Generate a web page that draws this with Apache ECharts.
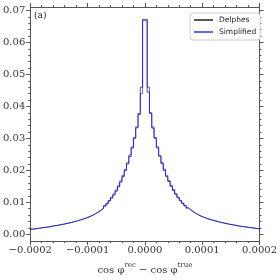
<!DOCTYPE html>
<html><head><meta charset="utf-8">
<script src="https://cdn.jsdelivr.net/npm/echarts@6/dist/echarts.min.js"></script>
<style>html,body{margin:0;padding:0;background:#fff}#c{width:280px;height:280px}</style>
</head><body><div id="c"></div>
<script>
// histogram binning: 100 bins from -0.0002 to 0.0002
const binMin = -0.0002;
const binWidth = 0.000004;

const delphes = [
0.0016,0.0017,0.0018,0.0019,0.0020,0.0021,0.0022,0.0023,0.0024,0.0026,
0.0027,0.0028,0.0029,0.0031,0.0032,0.0034,0.0035,0.0037,0.0039,0.0041,
0.0043,0.0045,0.0047,0.0050,0.0052,0.0055,0.0058,0.0062,0.0066,0.0070,
0.0075,0.0081,0.0088,0.0095,0.0104,0.0113,0.0123,0.0135,0.0148,0.0163,
0.0180,0.0199,0.0220,0.0243,0.0270,0.0300,0.0333,0.0375,0.0460,0.0672,
0.0672,0.0445,0.0380,0.0332,0.0303,0.0270,0.0244,0.0221,0.0200,0.0181,
0.0165,0.0150,0.0137,0.0125,0.0114,0.0105,0.0096,0.0089,0.0082,0.0076,
0.0071,0.0066,0.0062,0.0058,0.0055,0.0052,0.0050,0.0047,0.0045,0.0043,
0.0041,0.0039,0.0037,0.0036,0.0034,0.0033,0.0031,0.0030,0.0029,0.0027,
0.0026,0.0025,0.0024,0.0023,0.0022,0.0021,0.0020,0.0019,0.0018,0.0017
];
const simplified = [
0.0016,0.0017,0.0018,0.0019,0.0020,0.0021,0.0022,0.0023,0.0025,0.0026,
0.0027,0.0028,0.0030,0.0031,0.0032,0.0034,0.0036,0.0037,0.0039,0.0041,
0.0043,0.0045,0.0048,0.0050,0.0053,0.0056,0.0059,0.0063,0.0067,0.0072,
0.0077,0.0083,0.0090,0.0097,0.0106,0.0116,0.0126,0.0138,0.0152,0.0167,
0.0184,0.0203,0.0224,0.0248,0.0273,0.0303,0.0336,0.0378,0.0440,0.0668,
0.0668,0.0460,0.0378,0.0336,0.0300,0.0274,0.0247,0.0225,0.0204,0.0185,
0.0168,0.0153,0.0140,0.0127,0.0116,0.0106,0.0098,0.0090,0.0083,0.0077,
0.0072,0.0067,0.0063,0.0059,0.0056,0.0053,0.0050,0.0048,0.0046,0.0044,
0.0042,0.0040,0.0038,0.0036,0.0035,0.0033,0.0032,0.0030,0.0029,0.0028,
0.0026,0.0025,0.0024,0.0023,0.0022,0.0021,0.0020,0.0019,0.0018,0.0017
];
const seriesNames = ['Delphes', 'Simplified'];
const xTicks = [-0.0002, -0.0001, 0, 0.0001, 0.0002];
const yTicks = [0, 0.01, 0.02, 0.03, 0.04, 0.05, 0.06, 0.07];
const panelLabel = '(a)';

function stepData(vals) {
  const pts = vals.map((v, i) => [binMin + i * binWidth, v]);
  pts.push([binMin + vals.length * binWidth, vals[vals.length - 1]]);
  return pts;
}
const yMinor = [];
yTicks.forEach(t => { for (let k = 1; k < 5; k++) yMinor.push(+(t + k * 0.002).toFixed(4)); });

const serif = 'DejaVu Serif';
const axisCol = '#555';
function fmtX(v) {
  const s = Math.abs(v).toFixed(4);
  return v < -1e-12 ? '\u2212' + s : s;
}
const yMin = -0.0021, yMax = 0.0711;

const baseX = {
  type: 'value', min: xTicks[0], max: xTicks[xTicks.length - 1], interval: 0.0001,
  axisLine: { show: true, onZero: false, lineStyle: { color: axisCol, width: 1 } },
  axisTick: { show: true, length: 4, lineStyle: { color: axisCol, width: 1 } },
  minorTick: { show: true, splitNumber: 5, length: 2, lineStyle: { color: axisCol, width: 1 } },
  splitLine: { show: false }, minorSplitLine: { show: false }
};
function yAx(pos, major) {
  return { type: 'value', position: pos, min: yMin, max: yMax,
    axisLine: { show: major, onZero: false, lineStyle: { color: axisCol, width: 1 } },
    axisTick: { show: true, length: major ? 4 : 2, customValues: major ? yTicks : yMinor,
      lineStyle: { color: axisCol, width: 1 } },
    axisLabel: (major && pos === 'left')
      ? { customValues: yTicks, formatter: v => v.toFixed(2), fontFamily: serif, fontSize: 10, color: '#333', margin: 5 }
      : { show: false },
    splitLine: { show: false } };
}
const chart = echarts.init(document.getElementById('c'), null, { renderer: 'canvas' });
chart.setOption({
  animation: false,
  backgroundColor: '#fff',
  title: { text: panelLabel, left: 34, top: 11, padding: 0,
    textStyle: { fontFamily: serif, fontSize: 9, fontWeight: 'normal', color: '#222' } },
  grid: { left: 29, right: 19, top: 7, bottom: 33 },
  legend: {
    data: seriesNames, orient: 'vertical', left: 190, top: 13,
    itemWidth: 19, itemHeight: 9, itemGap: 4, padding: [3, 4, 4, 3],
    itemStyle: { opacity: 0, borderWidth: 0 },
    backgroundColor: '#fff', borderColor: '#ccc', borderWidth: 1, borderRadius: 3,
    textStyle: { fontFamily: 'DejaVu Sans', fontSize: 7.5, color: '#222', padding: [0, 0, 0, 1] }
  },
  xAxis: [
    Object.assign({}, baseX, {
      position: 'bottom',
      axisLabel: { formatter: fmtX, fontFamily: serif, fontSize: 10, color: '#333', margin: 4 },
      name: '{a|cos \u03c6}{s|rec}{a| \u2212 cos \u03c6}{s|true}',
      nameLocation: 'middle', nameGap: 21,
      nameTextStyle: { rich: {
        a: { fontFamily: serif, fontSize: 10, color: '#333', verticalAlign: 'bottom', lineHeight: 13 },
        s: { fontFamily: serif, fontSize: 7, color: '#333', verticalAlign: 'top', lineHeight: 13, padding: [0, 0, 2, 0] }
      } }
    }),
    Object.assign({}, baseX, { position: 'top', axisLabel: { show: false } })
  ],
  yAxis: [yAx('left', true), yAx('left', false), yAx('right', true), yAx('right', false)],
  series: [
    { name: seriesNames[0], type: 'line', step: 'end', symbol: 'none', data: stepData(delphes),
      xAxisIndex: 0, yAxisIndex: 0,
      lineStyle: { color: 'rgba(0,0,0,0.65)', width: 1 }, itemStyle: { color: 'rgba(0,0,0,0.65)' } },
    { name: seriesNames[1], type: 'line', step: 'end', symbol: 'none', data: stepData(simplified),
      xAxisIndex: 0, yAxisIndex: 0,
      lineStyle: { color: 'rgba(0,0,255,0.6)', width: 1 }, itemStyle: { color: 'rgba(0,0,255,0.6)' } }
  ]
});
</script></body></html>
